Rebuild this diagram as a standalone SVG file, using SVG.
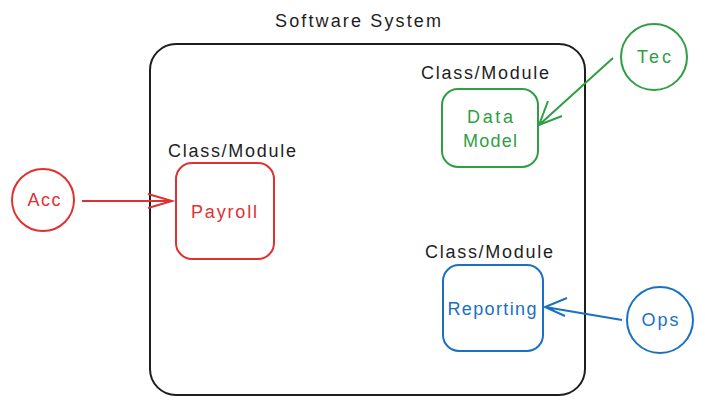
<svg xmlns="http://www.w3.org/2000/svg" width="705" height="405" viewBox="0 0 705 405">
<style>
text{font-family:"Liberation Sans",Arial,sans-serif;font-size:18px}
.lbl{fill:#1e1e1e}
.red{stroke:#e03131;fill:none;stroke-width:2}
.green{stroke:#2f9e44;fill:none;stroke-width:2}
.blue{stroke:#1971c2;fill:none;stroke-width:2}
.tr{fill:#e03131;text-anchor:middle}
.tg{fill:#2f9e44;text-anchor:middle}
.tb{fill:#1971c2;text-anchor:middle}
</style>
<rect width="705" height="405" fill="#ffffff"/>
<g id="system">
<rect x="150" y="44" width="435" height="351" rx="26" fill="none" stroke="#1e1e1e" stroke-width="2"/>
<text class="lbl" x="358" y="27" text-anchor="middle" textLength="166">Software System</text>
</g>
<g id="payroll">
<text class="lbl" x="168" y="157" textLength="128">Class/Module</text>
<rect class="red" x="176" y="163" width="98" height="96" rx="16"/>
<text class="tr" x="224" y="218" textLength="66">Payroll</text>
</g>
<g id="datamodel">
<text class="lbl" x="421" y="79" textLength="128">Class/Module</text>
<rect class="green" x="442" y="89" width="96" height="78" rx="16"/>
<text class="tg" x="490" y="123" font-size="19" textLength="46">Data</text>
<text class="tg" x="490" y="147" font-size="19" textLength="54">Model</text>
</g>
<g id="reporting">
<text class="lbl" x="425" y="258" textLength="128">Class/Module</text>
<rect class="blue" x="443" y="265" width="100" height="86" rx="16"/>
<text class="tb" x="492" y="315" textLength="89">Reporting</text>
</g>
<g id="acc">
<circle class="red" cx="43" cy="200" r="31"/>
<text class="tr" x="44" y="206" textLength="33">Acc</text>
</g>
<g id="tec">
<circle class="green" cx="654" cy="57" r="33"/>
<text class="tg" x="654" y="63" font-size="19" textLength="34">Tec</text>
</g>
<g id="ops">
<circle class="blue" cx="660" cy="320" r="33"/>
<text class="tb" x="660" y="326" textLength="37">Ops</text>
</g>
<g id="connectors">
<path class="red" d="M82 201 L172 201 M148 194 L172 201 L148 208"/>
<path class="green" d="M613 58 L539 125 M548 101 L539 125 L562 116"/>
<path class="blue" d="M622 320 L545 307 M567 298 L545 307 L565 316"/>
</g>
</svg>
